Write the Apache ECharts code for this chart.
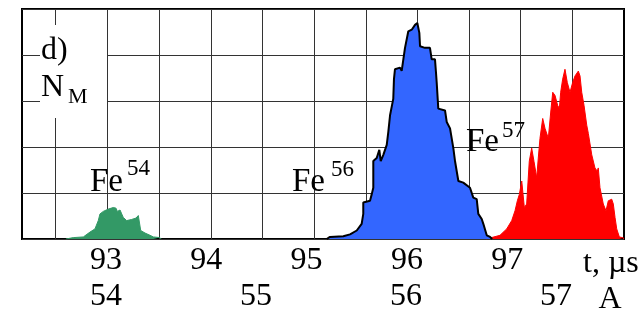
<!DOCTYPE html>
<html>
<head>
<meta charset="utf-8">
<script src="https://cdn.jsdelivr.net/npm/echarts@6/dist/echarts.min.js"></script>
<style>
html,body{margin:0;padding:0;background:#fff;}
#chart{width:644px;height:313px;}
</style>
</head>
<body>
<div id="chart"></div>
<script>
// ---- data ----
const timeTicks = [93, 94, 95, 96, 97];          // t, µs
const massTicks = [54, 55, 56, 57];              // A
const gridTimes = [92.497, 93.014, 93.528, 94.045, 94.561, 95.074, 95.592, 96.101, 96.620, 97.134, 97.647];
const timeAxisName = 't, µs';
const massAxisName = 'A';
const panelLabel = 'd)';
const countLabel = ['N', 'M'];
const peakLabels = [['Fe', '54'], ['Fe', '56'], ['Fe', '57']];

const fe54 = [[92.60,0],[92.674,0.6],[92.774,0.9],[92.840,3.0],[92.890,4.4],[92.923,8.0],[92.940,10.9],[92.973,12.0],[93.023,13.0],[93.073,13.7],[93.100,13.4],[93.113,12.0],[93.140,12.6],[93.157,10.9],[93.172,9.4],[93.206,8.0],[93.256,8.5],[93.299,9.1],[93.322,10.2],[93.339,9.4],[93.346,3.7],[93.389,2.6],[93.439,1.6],[93.472,0.9],[93.538,0.6],[93.55,0]];

const fe56 = [[95.20,0],[95.233,0.9],[95.366,1.2],[95.433,2.0],[95.500,3.7],[95.549,6.6],[95.565,10.9],[95.565,15.9],[95.632,16.6],[95.649,19.4],[95.665,22.3],[95.665,33.9],[95.699,35.2],[95.725,38.8],[95.739,33.9],[95.765,36.6],[95.799,40.9],[95.815,46.7],[95.832,53.8],[95.848,54.5],[95.864,60.9],[95.871,69.5],[95.881,73.8],[95.931,74.5],[95.948,73.1],[95.964,73.8],[95.981,83.1],[96.014,90.3],[96.048,91.0],[96.081,93.1],[96.104,93.9],[96.124,89.6],[96.131,83.8],[96.180,83.1],[96.230,83.1],[96.247,78.1],[96.280,78.1],[96.290,72.4],[96.297,68.1],[96.313,56.7],[96.380,55.9],[96.397,50.9],[96.430,48.1],[96.463,39.5],[96.480,33.8],[96.513,25.2],[96.562,24.5],[96.629,22.3],[96.662,18.0],[96.696,17.3],[96.712,10.9],[96.746,8.7],[96.762,6.6],[96.796,1.6],[96.829,0.9],[96.85,0]];

const fe57 = [[96.79,0],[96.796,0.8],[96.928,1.6],[96.995,4.4],[97.045,8.0],[97.078,12.3],[97.101,16.6],[97.121,19.4],[97.145,25.2],[97.161,25.5],[97.171,13.7],[97.194,15.2],[97.220,33.8],[97.244,39.5],[97.267,33.8],[97.294,26.6],[97.310,35.2],[97.327,43.8],[97.354,52.4],[97.377,48.1],[97.410,43.8],[97.434,55.2],[97.454,63.8],[97.477,62.4],[97.503,58.1],[97.520,56.7],[97.533,63.8],[97.553,69.5],[97.576,73.8],[97.599,68.1],[97.626,63.8],[97.653,68.1],[97.676,70.9],[97.709,73.0],[97.726,70.9],[97.743,63.8],[97.766,58.1],[97.793,49.5],[97.809,45.9],[97.826,46.7],[97.843,36.6],[97.875,30.9],[97.898,29.5],[97.908,30.9],[97.925,22.3],[97.958,15.2],[97.985,12.3],[98.008,16.6],[98.042,17.3],[98.058,15.2],[98.075,9.4],[98.092,4.4],[98.118,0.9],[98.158,0.5],[98.16,0]];

// ---- chart ----
const FONT = '"Liberation Serif", "Times New Roman", serif';
const chart = echarts.init(document.getElementById('chart'), null, {renderer: 'canvas'});

function txt(text, x, y, size, align) {
  return {type: 'text', z: 20, x: x, y: y,
    style: {text: text, fill: '#000', font: size + 'px ' + FONT, textAlign: align || 'left', textVerticalAlign: 'middle'}};
}

const option = {
  animation: false,
  backgroundColor: '#fff',
  grid: {left: 22, right: 20, top: 9, bottom: 71, show: true, borderColor: '#000', borderWidth: 2, backgroundColor: 'transparent'},
  xAxis: [
    {
      type: 'value', min: 92.1625, max: 98.1645,
      axisLine: {show: false},
      axisTick: {show: false, customValues: gridTimes},
      splitLine: {show: true, lineStyle: {color: '#333', width: 1}},
      axisLabel: {customValues: timeTicks, margin: 6, fontFamily: FONT, fontSize: 32, color: '#000'}
    },
    {
      type: 'value', min: 53.44, max: 57.4533, position: 'bottom', offset: 36,
      axisLine: {show: false},
      axisTick: {show: false},
      splitLine: {show: false},
      axisLabel: {customValues: massTicks, margin: 6, fontFamily: FONT, fontSize: 32, color: '#000'}
    }
  ],
  yAxis: {
    type: 'value', min: 0, max: 100, interval: 20,
    axisLine: {show: false}, axisTick: {show: false}, axisLabel: {show: false},
    splitLine: {show: true, lineStyle: {color: '#333', width: 1}}
  },
  series: [
    {type: 'line', name: 'Fe54', data: fe54, symbol: 'none', z: 3,
      lineStyle: {color: '#339966', width: 1}, areaStyle: {color: '#339966', opacity: 1}},
    {type: 'line', name: 'Fe57', data: fe57, symbol: 'none', z: 3,
      lineStyle: {color: '#ff0000', width: 1}, areaStyle: {color: '#ff0000', opacity: 1}},
    {type: 'line', name: 'Fe56', data: fe56, symbol: 'none', z: 4,
      lineStyle: {color: '#000', width: 2}, areaStyle: {color: '#3366ff', opacity: 1}}
  ],
  graphic: [
    {type: 'rect', z: 10, shape: {x: 40, y: 25, width: 67, height: 93}, style: {fill: '#fff'}},
    txt(panelLabel, 41, 51, 32),
    txt(countLabel[0], 41, 87.5, 32),
    txt(countLabel[1], 68, 97.6, 22),
    txt(peakLabels[0][0], 90, 182, 33), txt(peakLabels[0][1], 127, 169, 23),
    txt(peakLabels[1][0], 292, 182, 33), txt(peakLabels[1][1], 331, 170, 23),
    txt(peakLabels[2][0], 466, 142, 33), txt(peakLabels[2][1], 502, 130.5, 23),
    txt(timeAxisName, 583, 264, 32),
    txt(massAxisName, 610, 300, 32, 'center')
  ]
};
chart.setOption(option);
</script>
</body>
</html>
